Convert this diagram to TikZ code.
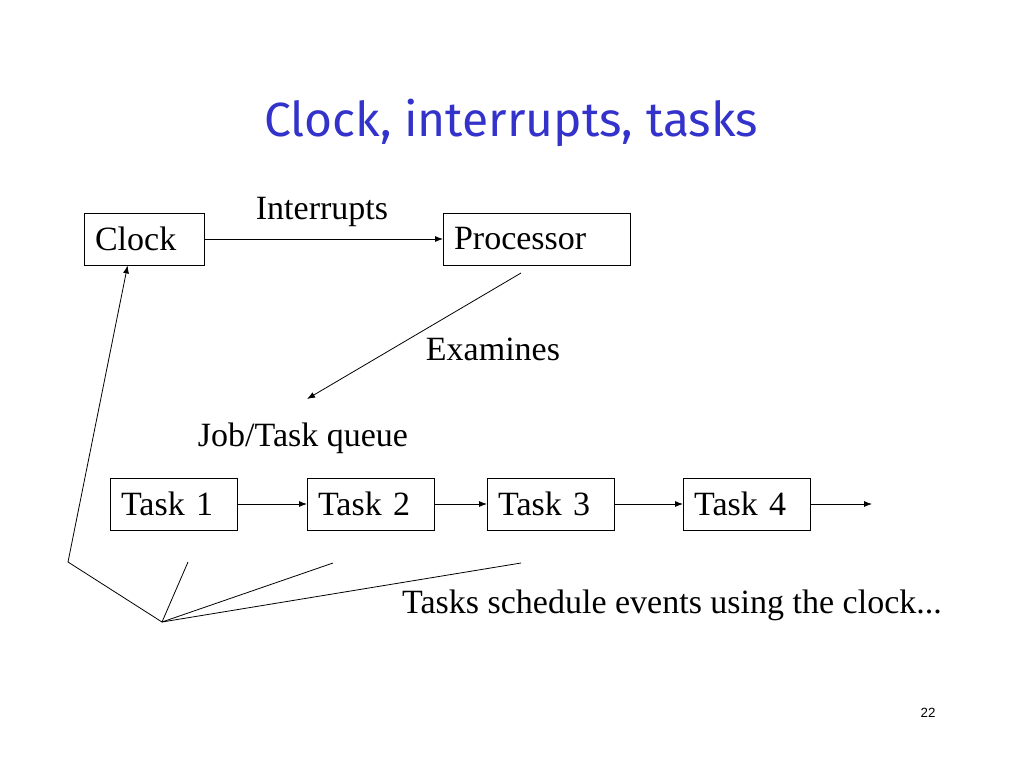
\documentclass[tikz,border=0pt]{standalone}
\usepackage{fontspec}
\setmainfont{Liberation Serif}
\newfontfamily\titlefont{Fira Sans}
\newfontfamily\numfont{Liberation Sans}
\usetikzlibrary{arrows.meta,calc}
\definecolor{titleblue}{RGB}{51,51,204}
\tikzset{
	box/.style={draw, anchor=west, minimum height=39pt, inner xsep=8pt, inner ysep=0pt, text width=#1, align=left},
	arr/.style={-{Latex[length=6pt,width=4.5pt]}},
	every node/.append style={font=\fontsize{25.5}{30}\selectfont}
}
\begin{document}
\begin{tikzpicture}[x=0.75pt,y=-0.75pt,line width=0.6pt]
		\useasboundingbox (0,0) rectangle (1024,768);

		\node (Title) at (511,123) [text=titleblue,font=\titlefont\fontsize{36}{42}\selectfont]{Clock, interrupts, tasks};

		\node (Clock) at (84,239) [box=74.25pt]{Clock};
		\node (Processor) at (443,239) [box=124.5pt]{Processor};
		\node (Interrupts) at (322,212) {Interrupts};

		\coordinate (ExStart) at (521,273);
		\coordinate (ExEnd) at (307,399);
		\node (Examines) at (493,349) {Examines};
		\node (Queue) at (303,438) {Job/Task queue};

		\node (Task1) at (110,504) [box=79.5pt]{Task 1};
		\node (Task2) at (307,504) [box=79.5pt]{Task 2};
		\node (Task3) at (487,504) [box=79.5pt]{Task 3};
		\node (Task4) at (683,504) [box=79.5pt]{Task 4};
		\coordinate (QueueEnd) at (872,504);

		\coordinate (Fan) at (162,622);
		\coordinate (Corner) at (68,562);
		\coordinate (FanA) at (188,562);
		\coordinate (FanB) at (333,563);
		\coordinate (FanC) at (521,563);
		\node (Schedule) at (672,605) {Tasks schedule events using the clock...};

		\node (PageNo) at (928,713) [font=\numfont\fontsize{10}{12}\selectfont]{22};

		\draw [arr] (Clock) -- (Processor);
		\draw [arr] (ExStart) -- (ExEnd);

		\draw [arr] (Task1) -- (Task2);
		\draw [arr] (Task2) -- (Task3);
		\draw [arr] (Task3) -- (Task4);
		\draw [arr] (Task4) -- (QueueEnd);

		\draw [arr] (Fan) -- (Corner) -- ($(Clock.south west)!0.36!(Clock.south east)$);
		\draw (Fan) -- (FanA);
		\draw (Fan) -- (FanB);
		\draw (Fan) -- (FanC);
	\end{tikzpicture}
\end{document}
